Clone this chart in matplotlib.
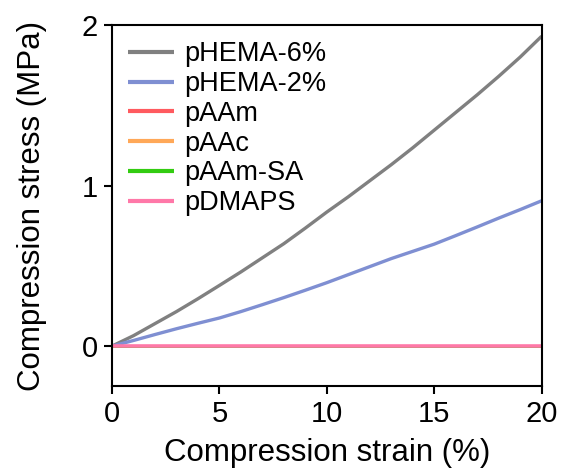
import matplotlib
matplotlib.use('Agg')
from matplotlib import pyplot as plt

plt.rcParams['font.family'] = ['Liberation Sans', 'DejaVu Sans']

# strain (%) and stress (MPa)
strain = list(range(0, 21))
phema6 = [0, 0.065, 0.14, 0.215, 0.295, 0.378, 0.462, 0.55, 0.638, 0.735, 0.835,
          0.93, 1.03, 1.13, 1.235, 1.345, 1.455, 1.565, 1.68, 1.80, 1.93]
phema2 = [0, 0.035, 0.072, 0.108, 0.142, 0.175, 0.215, 0.258, 0.302, 0.348, 0.395,
          0.445, 0.495, 0.545, 0.59, 0.635, 0.688, 0.742, 0.797, 0.85, 0.905]
paam = [0] * 21
paac = [0] * 21
paam_sa = [0] * 21
pdmaps = [0] * 21

names = ['pHEMA-6%', 'pHEMA-2%', 'pAAm', 'pAAc', 'pAAm-SA', 'pDMAPS']
series = [phema6, phema2, paam, paac, paam_sa, pdmaps]
colors = ['#808080', '#7f8fd2', '#ff5a5f', '#ffa858', '#33cc11', '#ff78a8']
widths = [2.4, 2.4, 2.0, 2.0, 2.0, 2.6]

fig = plt.figure(figsize=(5.66, 4.71), dpi=100)
ax = fig.add_axes([0.198, 0.180, 0.759, 0.767])

for name_, ys_, c_, w_ in zip(names, series, colors, widths):
    ax.plot(strain, ys_, color=c_, lw=w_, label=name_, solid_capstyle='butt')

ax.set_xlim(0, 20)
ax.set_ylim(-0.25, 2)
ax.set_xticks([0, 5, 10, 15, 20])
ax.set_yticks([0, 1, 2])
ax.set_xlabel('Compression strain (%)', fontsize=22.5, labelpad=7)
ax.set_ylabel('Compression stress (MPa)', fontsize=22.5, labelpad=25)
ax.tick_params(labelsize=21, width=1.5, length=6, direction='out', pad=4)
for sp in ax.spines.values():
    sp.set_linewidth(1.5)

leg = ax.legend(loc='upper left', frameon=False, fontsize=19.5, handlelength=1.7,
                handletextpad=0.38, labelspacing=0.14, borderaxespad=0.2,
                bbox_to_anchor=(0.0, 1.0))
for h in leg.get_lines():
    h.set_linewidth(3)

fig.savefig('out.png', dpi=100)
